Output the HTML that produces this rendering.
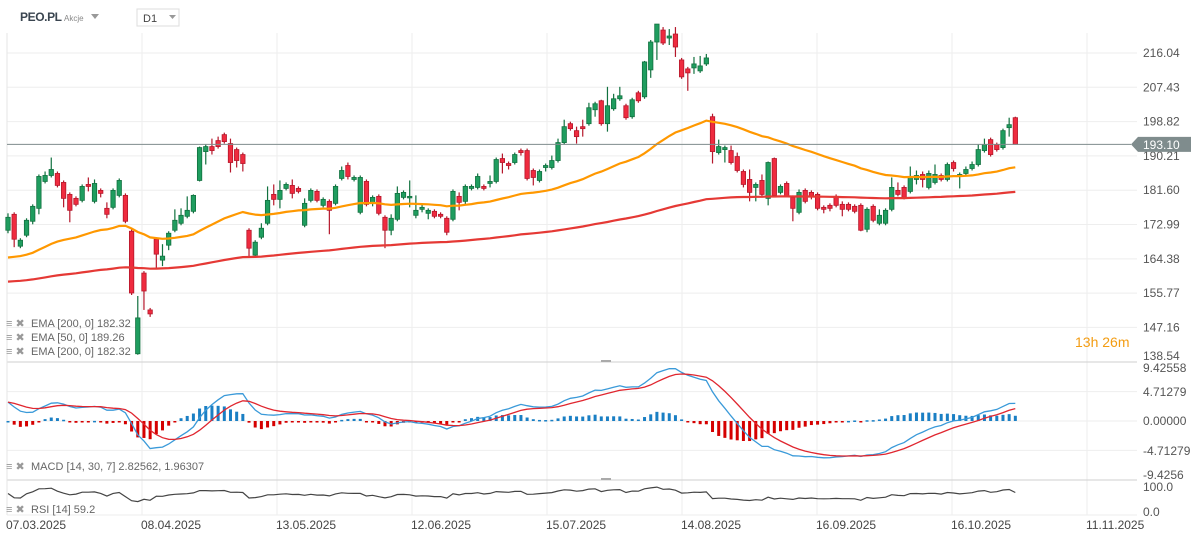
<!DOCTYPE html>
<html><head><meta charset="utf-8">
<style>
html,body{margin:0;padding:0;background:#fff;}
svg{display:block;font-family:"Liberation Sans",Arial,sans-serif;}
.pre{white-space:pre;}
</style></head>
<body>
<svg id="chart" width="1203" height="542" viewBox="0 0 1203 542">
  <g id="grid"></g>
  <g id="candles"></g>
  <g id="lines"></g>
  <g id="axes"></g>
  <g>
    <text x="20" y="21" font-size="12" font-weight="bold" letter-spacing="-0.4" fill="#3a4550">PEO.PL</text>
    <text x="64" y="21" font-size="8" fill="#888">Akcje</text>
    <path d="M91 14 L99 14 L95 19 Z" fill="#999"/>
    <rect x="137" y="9" width="42" height="17" fill="#fff" stroke="#ddd"/>
    <text x="143" y="22" font-size="11" fill="#444">D1</text>
    <path d="M169 15 L176 15 L172.5 19 Z" fill="#999"/>
  </g>
  <g font-size="11" fill="#666" class="pre">
    <text x="6" y="327" fill="#999" font-size="11">≡ ✖</text>
    <text x="31" y="327">EMA  [200,  0]  182.32</text>
    <text x="6" y="341" fill="#999" font-size="11">≡ ✖</text>
    <text x="31" y="341">EMA  [50,  0]  189.26</text>
    <text x="6" y="355" fill="#999" font-size="11">≡ ✖</text>
    <text x="31" y="355">EMA  [200,  0]  182.32</text>
    <text x="6" y="470" fill="#999" font-size="11">≡ ✖</text>
    <text x="31" y="470">MACD  [14,  30,  7]  2.82562,   1.96307</text>
    <text x="6" y="513" fill="#999" font-size="11">≡ ✖</text>
    <text x="31" y="513">RSI  [14]  59.2</text>
  </g>
  <text x="1075" y="347" font-size="14" fill="#f39c12">13h 26m</text>
</svg>
<script>
const opens=[171.55,175.55,167.55,170.3,173.8,177.05,183.8,185.3,185.8,183.55,180.55,179.55,179.05,183.05,178.8,181.55,177.05,177.3,180.3,180.3,171.3,140.55,160.8,151.55,169.3,164.05,167.8,171.55,173.3,175.05,176.3,184.05,191.3,192.55,194.05,195.55,193.3,191.8,190.55,171.55,165.3,169.8,173.3,180.55,179.3,182.05,182.8,182.05,172.8,179.05,181.3,177.8,178.8,178.3,184.55,187.8,184.3,176.05,183.8,178.3,180.05,174.8,171.55,174.3,179.8,179.8,175.3,176.8,175.8,176.3,175.55,174.55,174.3,180.05,178.8,182.05,182.3,182.55,183.3,183.8,189.55,188.3,188.55,191.55,191.55,186.55,184.05,187.3,187.3,189.05,193.55,198.3,196.55,197.55,198.3,201.8,204.05,198.3,202.05,204.55,202.8,200.05,206.05,205.05,211.8,218.8,221.8,219.8,220.8,214.3,212.05,212.3,211.55,213.3,200.05,191.05,191.8,191.55,190.05,186.3,184.3,182.3,184.05,179.55,189.55,181.05,183.3,179.8,176.05,181.55,181.05,180.55,177.3,177.8,180.05,178.05,178.05,177.55,177.8,171.8,177.55,173.3,173.3,176.8,181.55,182.3,181.3,184.3,185.55,182.3,183.55,185.3,184.3,188.55,185.05,185.8,187.05,188.05,191.55,194.3,193.05,192.3,197.3,199.8];
const closes=[174.8,169.3,169.05,174.05,177.55,185.05,185.3,186.8,182.8,179.55,176.55,178.05,182.55,182.55,183.3,180.8,175.55,181.55,184.05,173.8,155.8,149.55,156.3,150.55,165.55,165.05,170.8,174.05,175.3,176.55,180.3,192.3,192.55,191.55,192.55,193.8,188.55,189.05,188.3,167.05,168.55,172.05,179.05,179.3,181.55,183.05,180.8,181.3,178.3,181.55,179.05,179.3,176.55,182.55,186.55,185.05,184.8,184.8,178.05,179.8,175.8,171.55,174.55,180.8,181.05,180.05,176.55,177.3,176.55,175.05,175.05,171.05,181.3,178.55,182.55,182.55,185.05,182.05,183.8,189.3,188.55,187.8,190.55,191.05,184.55,184.8,186.3,187.8,189.05,193.55,197.55,197.05,195.05,197.05,202.3,203.3,198.3,202.8,204.55,205.3,199.8,204.3,204.05,213.8,218.8,223.3,218.55,220.3,217.55,210.05,211.05,213.3,212.8,214.8,191.3,192.55,192.3,188.55,186.55,183.05,181.05,183.05,180.55,188.55,180.3,182.55,180.05,177.05,181.05,178.8,180.05,177.05,176.8,177.05,177.8,176.8,176.8,176.3,171.55,176.8,174.05,175.3,176.55,182.3,180.55,179.8,185.05,185.3,184.3,185.8,185.55,184.3,188.05,187.05,185.55,186.8,188.05,191.8,193.05,190.55,191.8,196.55,198.05,193.1];
const highs=[175.8,176.05,169.55,174.55,178.05,185.55,186.3,189.8,186.3,184.05,181.05,180.05,183.05,184.8,184.3,182.05,178.55,182.05,184.55,180.8,171.8,155.05,161.3,152.05,169.8,168.05,171.3,176.8,177.05,180.05,180.55,192.55,193.05,194.55,195.05,196.05,194.55,192.3,191.05,172.05,169.05,173.3,182.55,183.05,184.05,183.55,184.3,182.55,179.55,182.05,181.8,179.8,179.3,183.05,187.55,188.55,185.3,185.3,184.3,180.3,180.55,175.3,175.55,182.55,181.55,184.05,180.3,178.3,177.05,176.8,176.05,175.05,181.8,181.05,183.05,183.05,185.8,183.05,185.3,189.8,190.8,188.8,191.05,192.05,192.05,187.05,186.8,188.3,190.3,194.55,199.3,198.8,197.55,199.3,203.55,203.8,204.3,207.55,205.8,207.55,203.3,204.8,206.55,214.05,219.3,223.3,222.55,222.05,222.55,214.8,212.55,215.05,215.3,215.8,200.8,194.3,192.8,192.8,191.05,186.8,186.8,183.55,185.55,188.8,189.8,183.05,183.8,180.3,181.8,182.05,181.55,181.05,177.8,178.3,180.55,178.8,178.55,178.05,178.3,177.3,178.05,176.8,177.05,184.8,183.55,182.8,187.55,186.55,186.3,186.55,188.05,185.8,188.55,189.05,186.05,187.55,188.8,193.05,194.55,194.8,193.55,197.05,199.8,200.05];
const lows=[170.8,167.3,167.05,169.8,173.05,175.55,183.3,184.8,182.3,177.3,173.55,177.55,178.55,181.3,178.3,179.8,174.55,176.8,179.8,173.3,155.3,140.3,151.55,149.8,162.05,162.55,166.55,171.05,172.8,174.55,175.8,183.8,188.05,190.55,192.05,193.3,186.05,187.3,186.3,164.8,164.8,169.3,172.8,177.8,177.05,181.55,179.55,180.8,172.3,178.55,178.55,177.3,170.55,177.8,184.05,184.3,183.8,175.55,177.55,177.55,175.3,167.05,170.3,173.8,179.3,177.3,174.55,176.05,174.3,174.55,174.55,170.3,173.8,176.55,178.05,181.55,181.8,181.55,182.3,183.3,185.8,186.8,188.05,190.3,184.05,182.8,183.55,186.3,186.8,188.55,193.05,196.55,193.3,195.05,197.8,200.05,197.8,196.3,201.55,204.05,199.3,199.55,203.55,204.55,209.8,214.3,218.05,218.05,215.05,209.55,206.55,210.8,211.05,212.8,188.3,190.55,188.55,188.05,186.05,182.3,178.8,178.8,179.8,177.8,180.05,180.55,179.8,173.8,175.55,178.3,179.3,176.55,175.8,176.3,177.3,175.05,176.3,175.8,171.3,171.05,173.55,172.8,172.8,176.3,180.05,179.3,180.8,183.05,182.3,181.8,183.05,183.8,183.8,186.3,182.05,185.3,186.55,187.55,191.05,190.05,191.3,191.8,195.05,193.05];
const priceTicks=[216.04,207.43,198.82,190.21,181.60,172.99,164.38,155.77,147.16];
const macdTicks=[9.42558,4.71279,0,-4.71279,-9.4256];
const macdTickLabels=["9.42558","4.71279","0.00000","-4.71279","-9.4256"];
const rsiTicks=[100,0];
const dateLabels=["07.03.2025","08.04.2025","13.05.2025","12.06.2025","15.07.2025","14.08.2025","16.09.2025","16.10.2025","11.11.2025"];
const lastPrice=193.10;

const NS="http://www.w3.org/2000/svg";
function mk(tag,attrs,parent){const e=document.createElementNS(NS,tag);for(const k in attrs)e.setAttribute(k,attrs[k]);parent.appendChild(e);return e;}
const PL=7,PR=1137;
const xC=i=>8+i*6.18;
const yP=p=>53+(216.04-p)*3.984;
const yM=v=>421-v*6.22;
const yR=v=>510-v*0.3;
const xD=k=>7+k*135;

const grid=document.getElementById('grid'),cg=document.getElementById('candles'),lg=document.getElementById('lines'),ax=document.getElementById('axes');
priceTicks.forEach((p,i)=>{
  const l=mk('line',{x1:PL,x2:PR,y1:yP(p),y2:yP(p),stroke:'#eeeeee','stroke-width':1},grid);
  
  
  const t=mk('text',{x:1143,y:yP(p)+4,'font-size':12,fill:'#555'},ax);t.textContent=p.toFixed(2);
  
  
});
{const t=mk('text',{x:1143,y:360,'font-size':12,fill:'#555'},ax);t.textContent='138.54';

}
macdTicks.forEach((v,i)=>{
  if(i>0&&i<4){const l=mk('line',{x1:PL,x2:PR,y1:yM(v),y2:yM(v),stroke:'#eeeeee'},grid);
  
  }
  const t=mk('text',{x:1143,y:[372,396,425,455,479][i],'font-size':12,fill:'#555'},ax);t.textContent=macdTickLabels[i];
  
  
});
rsiTicks.forEach((v,i)=>{
  const t=mk('text',{x:1143,y:[491,516][i],'font-size':12,fill:'#555'},ax);t.textContent=v.toFixed(1);
  
  
});
dateLabels.forEach((d,k)=>{
  const l=mk('line',{x1:xD(k),x2:xD(k),y1:33,y2:515,stroke:'#eeeeee'},grid);
  
  
  const t=mk('text',{x:xD(k)-1,y:529,'font-size':12,fill:'#444'},ax);t.textContent=d;
  
  
});
[[362,'#cfcfcf'],[480,'#cfcfcf'],[515,'#eeeeee']].forEach(([y,c])=>{
  const l=mk('line',{x1:PL,x2:PR,y1:y,y2:y,stroke:c},grid);
  
  
});
{const l=mk('line',{x1:PL,x2:PL,y1:33,y2:515,stroke:'#e6e6e6'},grid);

}
[[362],[480]].forEach(([y])=>{const r=mk('rect',{x:601,y:y-2,width:10,height:2,fill:'#aaa'},grid);

});

function ema(arr,n,seed){const a=2/(n+1);let e=seed;return arr.map(v=>(e=e+a*(v-e)));}
const ema50=ema(closes,50,164.3), ema200=ema(closes,200,158.5);
function path(vals,yf,start){return vals.map((v,i)=>(i===start?'M':'L')+xC(i).toFixed(1)+' '+yf(v).toFixed(1)).slice(start).join(' ');}
{const p=mk('path',{d:path(ema200,yP,0),fill:'none',stroke:'#e53935','stroke-width':2.2},lg);

}
{const p=mk('path',{d:path(ema50,yP,0),fill:'none',stroke:'#ff9800','stroke-width':2.2},lg);

}

closes.forEach((c,i)=>{
  const o=opens[i],up=c>=o,x=xC(i);
  const col=up?'#1f9d5f':'#ef2b3f',st=up?'#11713f':'#b5172b';
  const w=mk('line',{x1:x,x2:x,y1:yP(highs[i]),y2:yP(lows[i]),stroke:st,'stroke-width':1.2},cg);
  
  
  const top=yP(Math.max(o,c)),h=Math.max(1.5,yP(Math.min(o,c))-top);
  const r=mk('rect',{x:x-2.2,y:top,width:4.4,height:h,fill:col,stroke:st,'stroke-width':0.8},cg);
  
  
});

{const l=mk('line',{x1:PL,x2:1131,y1:yP(lastPrice),y2:yP(lastPrice),stroke:'#7f8c8d','stroke-width':1},lg);


const yy=yP(lastPrice);
const tg=mk('path',{d:`M1131 ${yy} L1138 ${yy-7.5} L1191 ${yy-7.5} L1191 ${yy+7.5} L1138 ${yy+7.5} Z`,fill:'#7f8c8d'},ax);


const t=mk('text',{x:1143,y:yy+4.5,'font-size':12,fill:'#fff'},ax);t.textContent=lastPrice.toFixed(2);

}

const e14=ema(closes,14,closes[0]+3.5), e30=ema(closes,30,closes[0]);
const macd=e14.map((v,i)=>v-e30[i]);
const sig=ema(macd,7,macd[0]);
macd.forEach((m,i)=>{
  const h=m-sig[i],y0=yM(0),y1=yM(h);
  const r=mk('rect',{x:xC(i)-1.5,y:Math.min(y0,y1),width:3,height:Math.max(1.5,Math.abs(y1-y0)),fill:h>=0?'#1a7fc4':'#d50000'},cg);
  
  
});
{const p=mk('path',{d:path(macd,yM,0),fill:'none',stroke:'#3a9ad9','stroke-width':1.3},lg);


const s=mk('path',{d:path(sig,yM,0),fill:'none',stroke:'#e0262f','stroke-width':1.3},lg);

}

let ag=0.6,al=0.45;const rsi=[55];
for(let i=1;i<closes.length;i++){const d=closes[i]-closes[i-1];ag=(ag*13+Math.max(d,0))/14;al=(al*13+Math.max(-d,0))/14;rsi.push(100-100/(1+ag/al));}
{const p=mk('path',{d:path(rsi,yR,0),fill:'none',stroke:'#444','stroke-width':1.2},lg);

}
</script>
</body></html>
